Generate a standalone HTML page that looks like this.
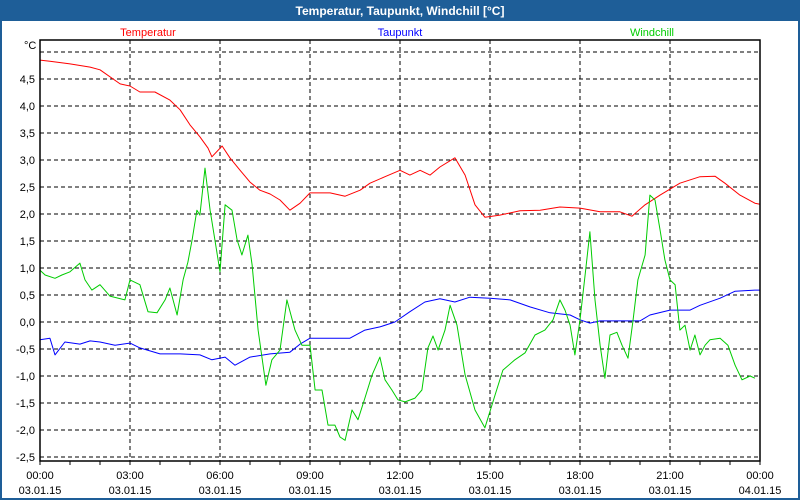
<!DOCTYPE html>
<html><head><meta charset="utf-8"><style>
html,body{margin:0;padding:0;background:#fff}
svg{display:block;font-family:"Liberation Sans",sans-serif}
</style></head><body>
<svg id="chart" width="800" height="500" viewBox="0 0 800 500" xmlns="http://www.w3.org/2000/svg">
<rect x="0" y="0" width="800" height="500" fill="#1e5e98"/>
<rect x="2" y="21" width="796" height="477" fill="#ffffff"/>
<text x="400" y="15" text-anchor="middle" fill="#fff" font-size="12" font-weight="bold">Temperatur, Taupunkt, Windchill [°C]</text>
<text x="148" y="36" text-anchor="middle" fill="#ff0000" font-size="11">Temperatur</text>
<text x="400" y="36" text-anchor="middle" fill="#0000ff" font-size="11">Taupunkt</text>
<text x="652" y="36" text-anchor="middle" fill="#00cc00" font-size="11">Windchill</text>
<text x="24" y="49" fill="#000" font-size="11">°C</text>
<g id="grid"></g>
<g id="series"></g>
<rect x="40" y="40" width="720" height="421" fill="none" stroke="#000" stroke-width="1.5"/>
<g id="axes"></g>
</svg>
<script>
const yTicks = [5.0,4.5,4.0,3.5,3.0,2.5,2.0,1.5,1.0,0.5,0.0,-0.5,-1.0,-1.5,-2.0,-2.5];
const yTickLabelsShown = [false,true,true,true,true,true,true,true,true,true,true,true,true,true,true,true];
const xTickHours = [0,3,6,9,12,15,18,21,24];
const xTimeLabels = ["00:00","03:00","06:00","09:00","12:00","15:00","18:00","21:00","00:00"];
const xDateLabels = ["03.01.15","03.01.15","03.01.15","03.01.15","03.01.15","03.01.15","03.01.15","03.01.15","04.01.15"];
const tempHours = [0,0.33,1,1.67,2,2.67,3,3.33,3.83,4.33,4.67,5,5.33,5.6,5.73,6.07,6.33,6.67,7,7.33,7.67,8,8.33,8.67,9,9.67,10.17,10.67,11,11.5,12,12.33,12.67,13,13.33,13.83,14.17,14.5,14.83,15.33,16,16.67,17.33,18,18.67,19.33,19.73,20.17,20.67,21.33,22,22.5,22.83,23.33,23.83,24];
const tempValues = [4.85,4.83,4.78,4.72,4.67,4.41,4.37,4.26,4.26,4.11,3.93,3.65,3.43,3.22,3.06,3.26,3.04,2.81,2.59,2.44,2.37,2.26,2.07,2.2,2.39,2.39,2.33,2.44,2.57,2.69,2.81,2.72,2.81,2.72,2.87,3.04,2.72,2.17,1.94,1.98,2.06,2.07,2.13,2.11,2.04,2.04,1.96,2.17,2.35,2.57,2.69,2.70,2.57,2.35,2.20,2.18];
const dewHours = [0,0.33,0.5,0.83,1.33,1.67,2,2.5,3,3.33,4,4.67,5.33,5.73,6.17,6.5,7,7.67,8.33,8.67,9,10.33,10.83,11.33,11.83,12.33,12.83,13.33,13.83,14.33,15,15.67,16.33,17,17.67,18,18.33,18.67,20,20.33,21,21.67,22,22.67,23.17,23.83,24];
const dewValues = [-0.33,-0.30,-0.61,-0.37,-0.41,-0.35,-0.37,-0.43,-0.39,-0.48,-0.59,-0.59,-0.61,-0.70,-0.65,-0.80,-0.65,-0.59,-0.56,-0.41,-0.30,-0.30,-0.15,-0.09,0.0,0.19,0.37,0.43,0.37,0.46,0.44,0.41,0.28,0.17,0.13,0.04,-0.02,0.02,0.02,0.13,0.22,0.22,0.31,0.44,0.57,0.59,0.59];
const chillHours = [0,0.17,0.5,0.73,1,1.33,1.5,1.73,2,2.33,2.83,3,3.33,3.6,3.9,4.17,4.33,4.57,4.77,4.93,5.07,5.23,5.33,5.5,5.67,5.83,6,6.17,6.4,6.57,6.73,6.93,7.07,7.27,7.53,7.73,8,8.23,8.5,8.73,9,9.17,9.4,9.6,9.83,10,10.17,10.4,10.6,10.83,11.07,11.33,11.5,11.73,11.93,12.17,12.5,12.73,12.93,13.1,13.27,13.5,13.67,13.9,14.17,14.5,14.83,15.17,15.43,15.83,16.17,16.5,16.83,17.1,17.33,17.5,17.67,17.83,18,18.17,18.33,18.5,18.67,18.83,19,19.23,19.4,19.6,19.77,19.93,20.17,20.33,20.5,20.67,20.83,21,21.17,21.33,21.5,21.67,21.83,22,22.17,22.33,22.67,22.93,23.17,23.4,23.67,23.83];
const chillValues = [0.96,0.87,0.81,0.87,0.93,1.09,0.78,0.59,0.69,0.48,0.41,0.78,0.69,0.19,0.17,0.41,0.63,0.13,0.78,1.11,1.52,2.07,1.98,2.85,2.07,1.52,0.93,2.17,2.07,1.52,1.24,1.61,1.06,-0.15,-1.17,-0.70,-0.52,0.41,-0.15,-0.43,-0.43,-1.26,-1.26,-1.91,-1.91,-2.13,-2.19,-1.63,-1.81,-1.41,-0.98,-0.65,-1.07,-1.26,-1.44,-1.48,-1.41,-1.26,-0.48,-0.26,-0.52,-0.15,0.31,-0.06,-0.98,-1.63,-1.96,-1.35,-0.89,-0.70,-0.57,-0.24,-0.15,0.04,0.41,0.22,-0.06,-0.61,0.04,0.87,1.67,0.41,-0.43,-1.04,-0.24,-0.19,-0.43,-0.67,0.04,0.78,1.24,2.35,2.26,1.70,1.15,0.78,0.69,-0.15,-0.06,-0.52,-0.24,-0.61,-0.43,-0.33,-0.30,-0.43,-0.80,-1.07,-1.00,-1.04];

const NS = "http://www.w3.org/2000/svg";
function xScale(h){ return 40 + h * 30; }
function yScale(v){ return 322 - v * 54; }
function mk(tag, attrs, parent){
  const e = document.createElementNS(NS, tag);
  for (const k in attrs) e.setAttribute(k, attrs[k]);
  parent.appendChild(e);
  return e;
}
const grid = document.getElementById('grid');
const axes = document.getElementById('axes');
const series = document.getElementById('series');

yTicks.forEach((v, i) => {
  const y = yScale(v);
  const l = mk('line', {x1:40, x2:760, y1:y, y2:y, stroke:'#000', 'stroke-width':1, 'stroke-dasharray':'4,3'}, grid);
  
  
  if (yTickLabelsShown[i]) {
    const t = mk('text', {x:35, y:y+4, 'text-anchor':'end', 'font-size':11, fill:'#000'}, axes);
    t.textContent = v.toFixed(1).replace('.', ',');
    
    
  }
});
xTickHours.forEach((h, i) => {
  const x = xScale(h);
  if (h > 0 && h < 24) {
    const l = mk('line', {x1:x, x2:x, y1:40, y2:461, stroke:'#000', 'stroke-width':1, 'stroke-dasharray':'4,3'}, grid);
    
    
  }
  const t1 = mk('text', {x:x, y:479, 'text-anchor':'middle', 'font-size':11, fill:'#000'}, axes);
  t1.textContent = xTimeLabels[i];
  
  
  const t2 = mk('text', {x:x, y:494, 'text-anchor':'middle', 'font-size':11, fill:'#000'}, axes);
  t2.textContent = xDateLabels[i];
  
  
});
for (let h = 0; h <= 24; h++) {
  const x = xScale(h);
  const tk = mk('line', {x1:x, x2:x, y1:461, y2:465, stroke:'#000', 'stroke-width':1}, axes);
  
  
}
function drawLine(hours, values, color, name){
  const pts = hours.map((h, i) => xScale(h).toFixed(1) + ',' + yScale(values[i]).toFixed(1)).join(' ');
  const p = mk('polyline', {points:pts, fill:'none', stroke:color, 'stroke-width':1, 'stroke-linejoin':'round'}, series);
  
  
}
drawLine(tempHours, tempValues, '#ff0000', 'temperatur-line');
drawLine(dewHours, dewValues, '#0000ff', 'taupunkt-line');
drawLine(chillHours, chillValues, '#00cc00', 'windchill-line');
</script>
</body></html>
